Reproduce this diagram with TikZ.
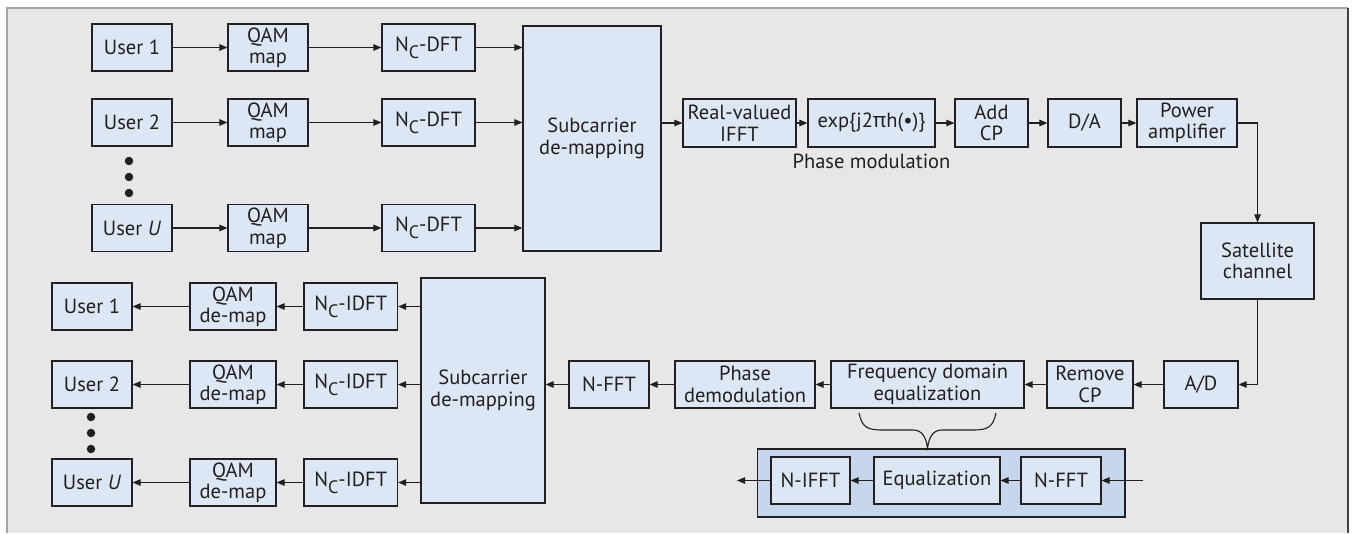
\documentclass[tikz,border=0pt]{standalone}
\usepackage{fontspec}
\setmainfont{PT Sans}
\newfontfamily\grk{Noto Sans}
\usetikzlibrary{arrows.meta}
\definecolor{panelbg}{HTML}{E6E7E8}
\definecolor{boxc}{HTML}{DCE6F4}
\definecolor{eqc}{HTML}{C6D6EC}
\definecolor{lc}{HTML}{231F20}
\newcommand\fs{\fontsize{20.5}{21.5}\selectfont}
\newcommand\Nc{N\raisebox{-7pt}{\fontsize{18}{18}\selectfont C}}
\tikzset{
  blk/.style={draw=lc, fill=boxc, line width=1.2pt, inner sep=0pt, align=center, font=\fs, text=lc},
  arr/.style={draw=lc, line width=1.1pt, -{Triangle[length=8pt,width=6.5pt]}},
  lab/.style={inner sep=0pt, font=\fs, text=lc},
  dotc/.style={circle, fill=lc, inner sep=0pt, minimum size=8.5pt}
}
\begin{document}
\begin{tikzpicture}[x=1pt,y=-1pt]
\useasboundingbox (0,0) rectangle (1356,533);
% panel
\fill[panelbg] (7,8) rectangle (1348,533);
\draw[gray!70, line width=1.5pt] (7,533) -- (7,8) -- (1348,8);
\draw[lc!85, line width=1.5pt] (1348,8) -- (1348,533);

% ---------- transmitter ----------
\node[blk, minimum width=80pt, minimum height=47pt] (u1) at (132,47.5) {User 1};
\node[blk, minimum width=80pt, minimum height=47pt] (u2) at (132,122.5) {User 2};
\node[blk, minimum width=80pt, minimum height=47pt] (uU) at (132,228) {User \textit{U}};
\node[blk, minimum width=80pt, minimum height=47pt] (q1) at (268,47.5) {QAM\\map};
\node[blk, minimum width=80pt, minimum height=47pt] (q2) at (268,122.5) {QAM\\map};
\node[blk, minimum width=80pt, minimum height=47pt] (qU) at (268,228) {QAM\\map};
\node[blk, minimum width=93pt, minimum height=47pt] (d1) at (428.5,47.5) {\Nc-DFT};
\node[blk, minimum width=93pt, minimum height=47pt] (d2) at (428.5,122.5) {\Nc-DFT};
\node[blk, minimum width=93pt, minimum height=47pt] (dU) at (428.5,228) {\Nc-DFT};
\node[blk, minimum width=138pt, minimum height=225pt] (s1) at (592,138.5) {Subcarrier\\de-mapping};
\node[dotc] (t1) at (129,161) {};
\node[dotc] (t2) at (129,177) {};
\node[dotc] (t3) at (129,193) {};

\node[blk, minimum width=113pt, minimum height=48pt] (ifft) at (739.5,123) {Real-valued\\IFFT};
\node[blk, minimum width=127pt, minimum height=48pt] (ex) at (871.5,123) {exp\{j2{\grk π}h(•)\}};
\node[blk, minimum width=73pt, minimum height=48pt] (acp) at (991.5,123) {Add\\CP};
\node[blk, minimum width=73pt, minimum height=48pt] (da) at (1084.5,123) {D/A};
\node[blk, minimum width=100pt, minimum height=48pt] (pa) at (1187,123) {Power\\amplifier};
\node[lab] (pm) at (871.5,161) {Phase modulation};
\node[blk, minimum width=113pt, minimum height=76pt] (sat) at (1257.5,261) {Satellite\\channel};

\draw[arr] (u1) -- (q1);
\draw[arr] (u2) -- (q2);
\draw[arr] (uU) -- (qU);
\draw[arr] (q1) -- (d1);
\draw[arr] (q2) -- (d2);
\draw[arr] (qU) -- (dU);
\draw[arr] (d1.east) -- (d1.east -| s1.west);
\draw[arr] (d2.east) -- (d2.east -| s1.west);
\draw[arr] (dU.east) -- (dU.east -| s1.west);
\draw[arr] (s1.east |- ifft.west) -- (ifft.west);
\draw[arr] (ifft) -- (ex);
\draw[arr] (ex) -- (acp);
\draw[arr] (acp) -- (da);
\draw[arr] (da) -- (pa);
\draw[arr] (pa.east) -| (sat.north);

% ---------- receiver ----------
\node[blk, minimum width=74pt, minimum height=47pt] (ad) at (1201,384.5) {A/D};
\node[blk, minimum width=86pt, minimum height=47pt] (rcp) at (1090,384.5) {Remove\\CP};
\node[blk, minimum width=193pt, minimum height=47pt] (fde) at (927.5,384.5) {Frequency domain\\equalization};
\node[blk, minimum width=140pt, minimum height=47pt] (pd) at (745,384.5) {Phase\\demodulation};
\node[blk, minimum width=80pt, minimum height=47pt] (nf) at (609,384.5) {N-FFT};
\node[blk, minimum width=124pt, minimum height=225pt] (s2) at (483,390.5) {Subcarrier\\de-mapping};
\node[blk, minimum width=93.5pt, minimum height=47pt] (i1) at (350.75,306.5) {\Nc-IDFT};
\node[blk, minimum width=93.5pt, minimum height=47pt] (i2) at (350.75,384.5) {\Nc-IDFT};
\node[blk, minimum width=93.5pt, minimum height=47pt] (iU) at (350.75,482.5) {\Nc-IDFT};
\node[blk, minimum width=86pt, minimum height=47pt] (m1) at (233,306.5) {QAM\\de-map};
\node[blk, minimum width=86pt, minimum height=47pt] (m2) at (233,384.5) {QAM\\de-map};
\node[blk, minimum width=86pt, minimum height=47pt] (mU) at (233,482.5) {QAM\\de-map};
\node[blk, minimum width=80pt, minimum height=47pt] (v1) at (92,306.5) {User 1};
\node[blk, minimum width=80pt, minimum height=47pt] (v2) at (92,384.5) {User 2};
\node[blk, minimum width=80pt, minimum height=47pt] (vU) at (92,482.5) {User \textit{U}};
\node[dotc] (b1) at (91,417) {};
\node[dotc] (b2) at (91,433) {};
\node[dotc] (b3) at (91,449) {};

\draw[arr] (sat.south) |- (ad.east);
\draw[arr] (ad) -- (rcp);
\draw[arr] (rcp) -- (fde);
\draw[arr] (fde) -- (pd);
\draw[arr] (pd) -- (nf);
\draw[arr] (nf.west) -- (nf.west -| s2.east);
\draw[arr] (s2.west |- i1.east) -- (i1.east);
\draw[arr] (s2.west |- i2.east) -- (i2.east);
\draw[arr] (s2.west |- iU.east) -- (iU.east);
\draw[arr] (i1) -- (m1);
\draw[arr] (i2) -- (m2);
\draw[arr] (iU) -- (mU);
\draw[arr] (m1) -- (v1);
\draw[arr] (m2) -- (v2);
\draw[arr] (mU) -- (vU);

% ---------- equalizer detail ----------
\node[draw=lc, fill=eqc, line width=1.2pt, minimum width=367.5pt, minimum height=68pt, inner sep=0pt] (eqp) at (941.25,483) {};
\node[blk, minimum width=79pt, minimum height=47pt] (nif) at (810.5,480.5) {N-IFFT};
\node[blk, minimum width=126pt, minimum height=47pt] (eq) at (937,480.5) {Equalization};
\node[blk, minimum width=80pt, minimum height=47pt] (nf2) at (1061,480.5) {N-FFT};
\coordinate (ein) at (1143,480.5);
\coordinate (eout) at (737,480.5);
\draw[arr] (ein) -- (nf2);
\draw[arr] (nf2) -- (eq);
\draw[arr] (eq) -- (nif);
\draw[arr] (nif) -- (eout);

% brace
\draw[lc, line width=1.1pt] (859,413) .. controls (862,427) and (867,430) .. (882,430)
  -- (913,430) .. controls (922,430) and (926,437) .. (927.5,448)
  .. controls (929,437) and (933,430) .. (942,430)
  -- (973,430) .. controls (988,430) and (993,427) .. (996,413);
\end{tikzpicture}
\end{document}
